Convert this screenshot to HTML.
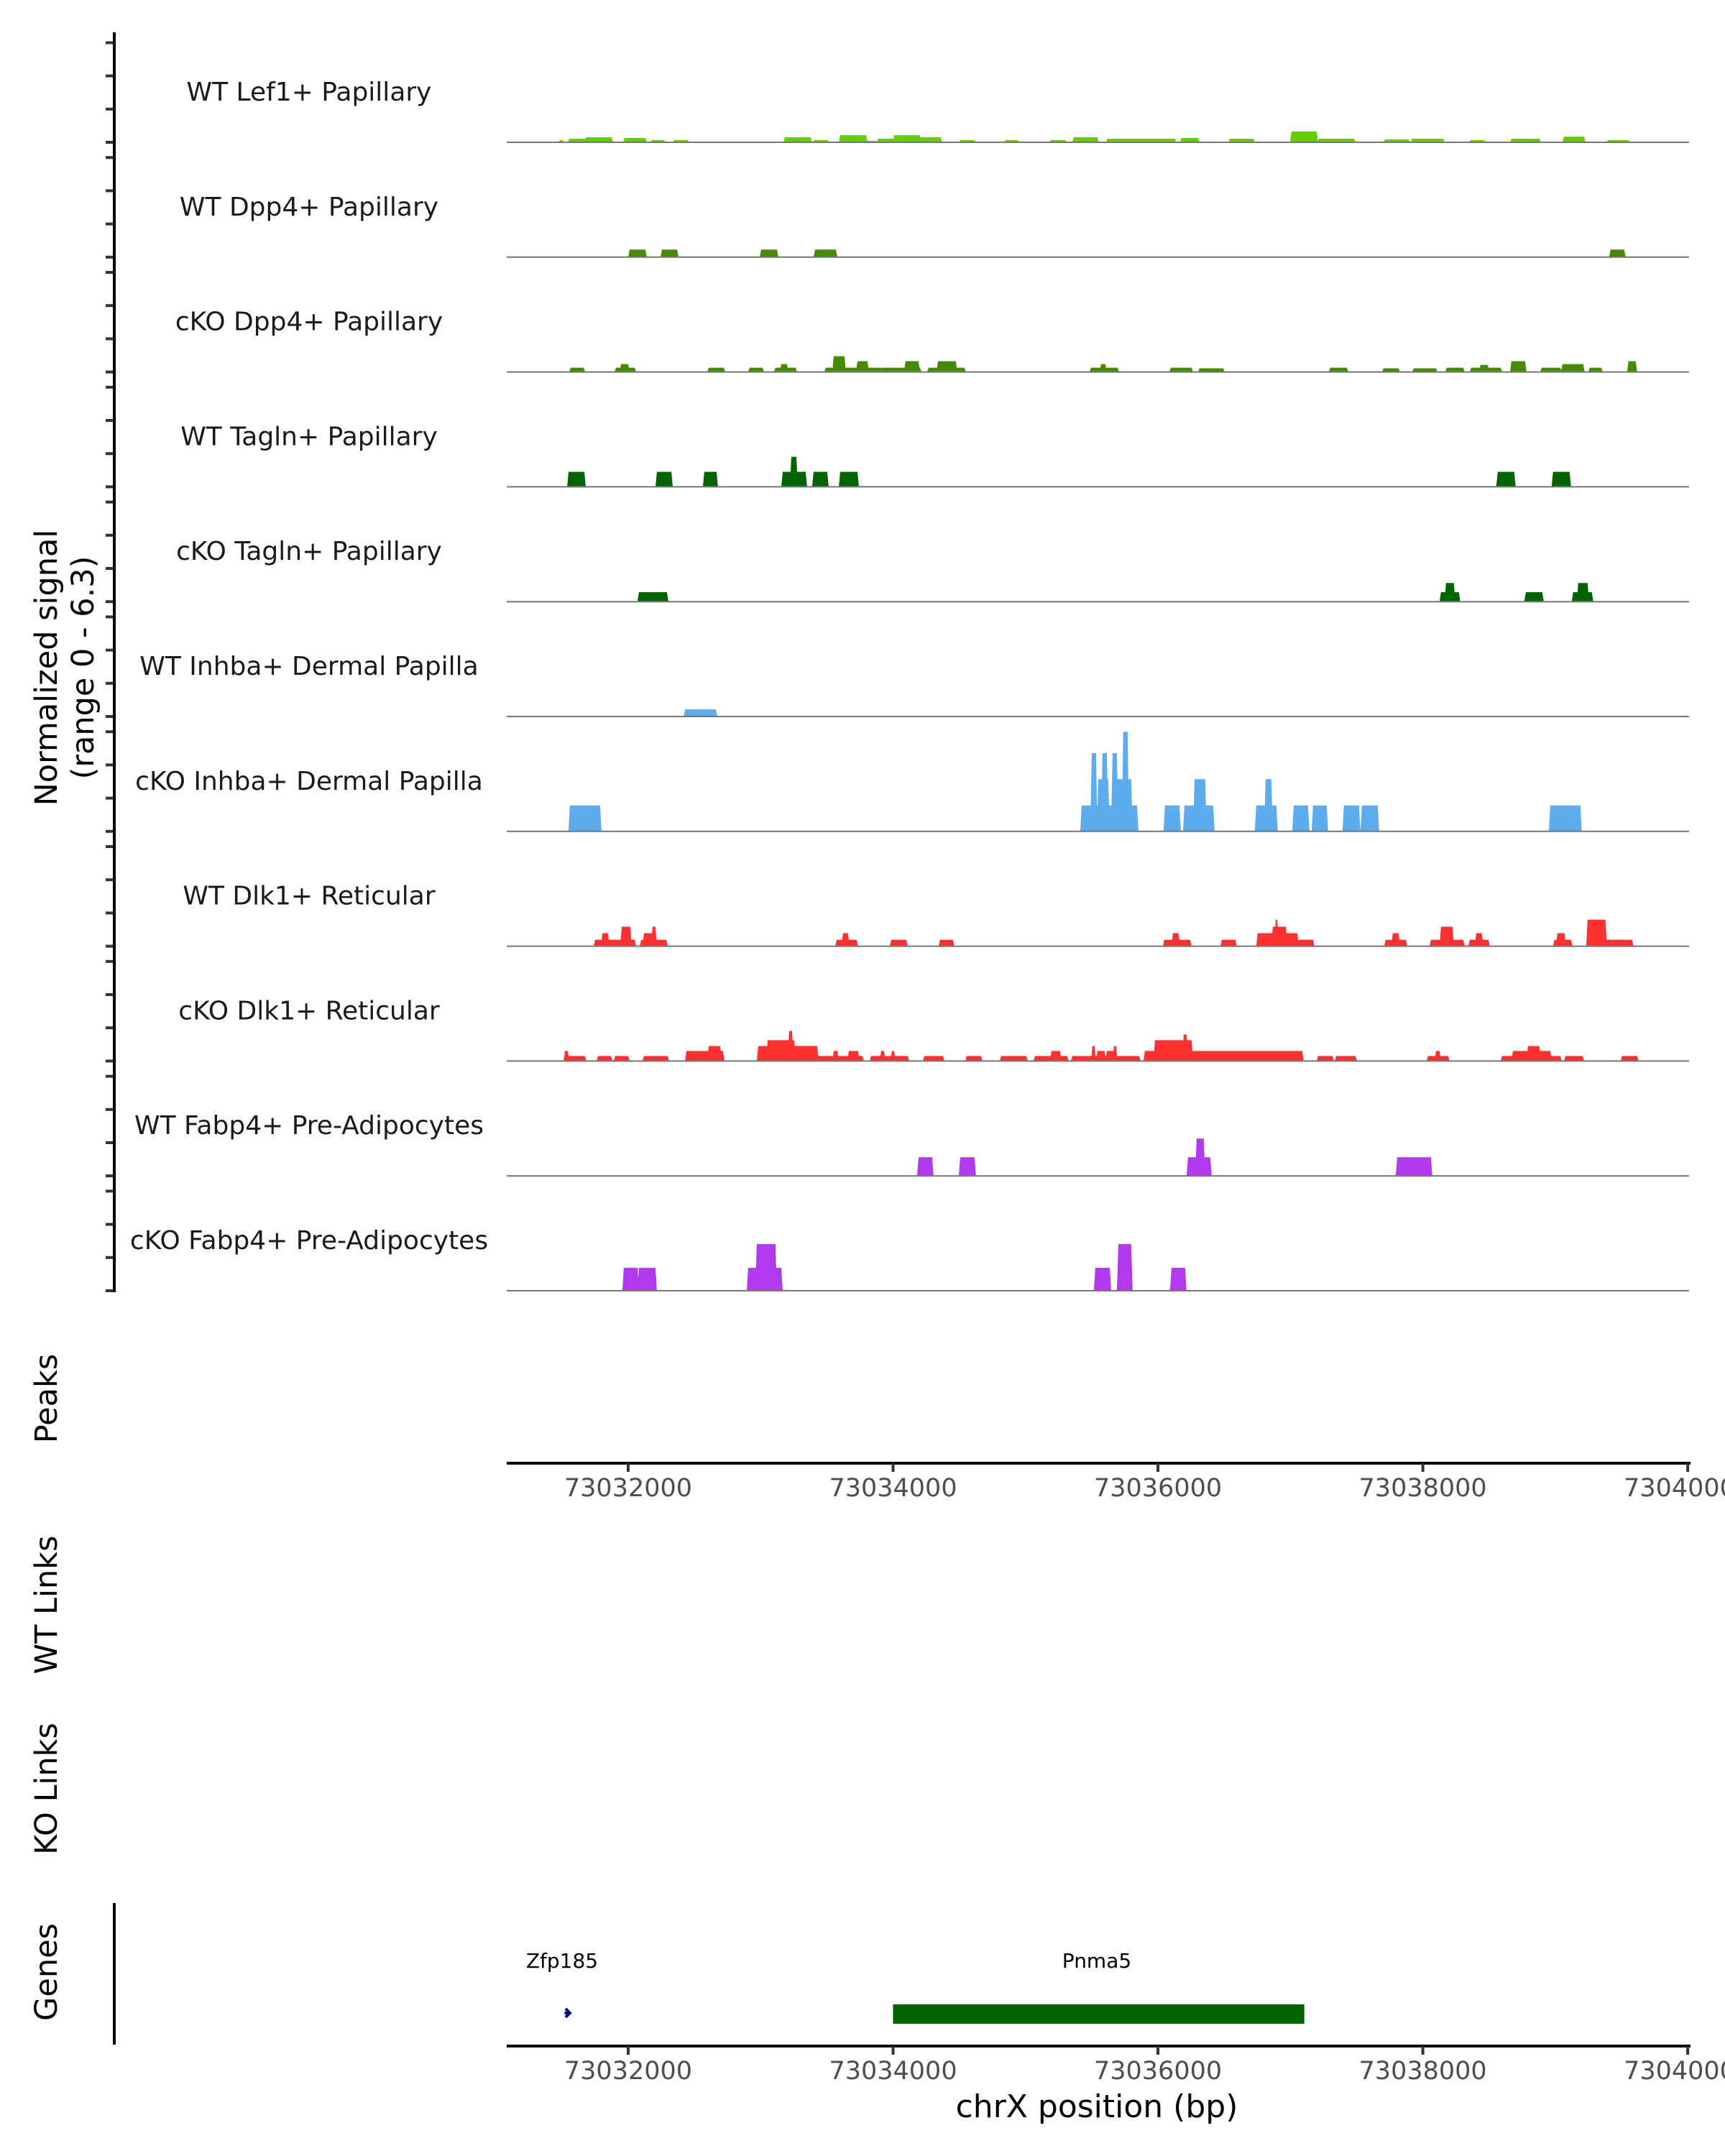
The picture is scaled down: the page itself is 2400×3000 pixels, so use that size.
<!DOCTYPE html>
<html><head><meta charset="utf-8"><style>
html,body{margin:0;padding:0;background:#fff;}
svg{display:block;font-family:"DejaVu Sans","Liberation Sans",sans-serif;}
</style></head><body>
<svg id="chart" width="2400" height="3000" viewBox="0 0 2400 3000" xmlns="http://www.w3.org/2000/svg">
<rect width="2400" height="3000" fill="#fff"/>
<g id="tracks"></g>
<g id="axes"></g>
<text transform="translate(79,929) rotate(-90)" text-anchor="middle" font-size="43" fill="#000">Normalized signal</text>
<text transform="translate(130,929) rotate(-90)" text-anchor="middle" font-size="43" fill="#000">(range 0 - 6.3)</text>
<text transform="translate(79,1946) rotate(-90)" text-anchor="middle" font-size="43" fill="#000">Peaks</text>
<text transform="translate(79,2233) rotate(-90)" text-anchor="middle" font-size="43" fill="#000">WT Links</text>
<text transform="translate(79,2489) rotate(-90)" text-anchor="middle" font-size="43" fill="#000">KO Links</text>
<text transform="translate(79,2744) rotate(-90)" text-anchor="middle" font-size="43" fill="#000">Genes</text>
<line x1="159" y1="2648" x2="159" y2="2845" stroke="#000" stroke-width="4"/>
<text x="782" y="2738" text-anchor="middle" font-size="28" fill="#000">Zfp185</text>
<text x="1526" y="2738" text-anchor="middle" font-size="28" fill="#000">Pnma5</text>
<g id="genes"></g>
<text x="1526" y="2946" text-anchor="middle" font-size="44" fill="#000">chrX position (bp)</text>
</svg>
<script>
const NS = "http://www.w3.org/2000/svg";
const REGION_START = 73031000;
const X_MIN = 73031083, X_MAX = 73040010;
const tickValues = [73032000, 73034000, 73036000, 73038000, 73040000];
const tickLabels = ["73032000", "73034000", "73036000", "73038000", "73040000"];
const yRange = [0, 6.3];
const trackNames = ["WT Lef1+ Papillary","WT Dpp4+ Papillary","cKO Dpp4+ Papillary","WT Tagln+ Papillary","cKO Tagln+ Papillary","WT Inhba+ Dermal Papilla","cKO Inhba+ Dermal Papilla","WT Dlk1+ Reticular","cKO Dlk1+ Reticular","WT Fabp4+ Pre-Adipocytes","cKO Fabp4+ Pre-Adipocytes"];
const trackColors = ["#66cd00","#458b00","#458b00","#006400","#006400","#5cacee","#5cacee","#ff3030","#ff3030","#b23aee","#b23aee"];

const lef1Start=[485,555,680,973,1179,1347,2183,2405,2601,2796,2888,3008,3203,3507,3849,4190,4364,4619,5178,5542,6008,6215,6714,6920,7359,7669,8065,8396];
const lef1End=[506,680,875,1130,1271,1450,2378,2508,2796,2888,3002,3203,3360,3615,3941,4299,4543,5129,5303,5721,6198,6480,6893,7153,7462,7880,8217,8553];
const lef1Val=[0.14,0.23,0.32,0.27,0.14,0.14,0.32,0.14,0.45,0.09,0.23,0.45,0.32,0.14,0.14,0.14,0.32,0.23,0.27,0.23,0.68,0.23,0.18,0.23,0.14,0.23,0.36,0.14];

const dpp4WtStart=[1011,1255,2004,2411,8417];
const dpp4WtEnd=[1130,1369,2123,2568,8520];
const dpp4WtVal=[0.48,0.48,0.48,0.48,0.48];

const dpp4KoStart=[566,908,946,1608,1917,2112,2156,2492,2552,2731,2905,3094,3268,3339,4494,4570,5097,5314,6301,6703,6931,7180,7365,7435,7669,7897,8054,8260,8553];
const dpp4KoEnd=[664,1049,1000,1722,2015,2264,2199,2899,2633,2807,3203,3192,3539,3474,4695,4603,5254,5493,6426,6817,7099,7305,7587,7490,7772,8038,8211,8347,8607];
const dpp4KoVal=[0.27,0.27,0.5,0.27,0.27,0.27,0.5,0.27,1.0,0.68,0.27,0.68,0.27,0.68,0.27,0.5,0.27,0.23,0.27,0.23,0.23,0.27,0.27,0.45,0.68,0.27,0.5,0.27,0.68];

const taglnWtStart=[550,1217,1575,2167,2232,2400,2601,7565,7983];
const taglnWtEnd=[669,1326,1667,2340,2270,2503,2731,7690,8108];
const taglnWtVal=[0.95,0.95,0.95,0.95,1.9,0.95,0.95,0.95,0.95];

const taglnKoStart=[1081,7137,7175,7777,8135,8173];
const taglnKoEnd=[1293,7272,7234,7902,8276,8244];
const taglnKoVal=[0.6,0.6,1.18,0.6,0.6,1.18];

const inhbaWtStart=[1429];
const inhbaWtEnd=[1662];
const inhbaWtVal=[0.45];

const inhbaKoStart=[560,4424,4500,4581,4657,4738,4549,4679,5053,5200,5276,5742,5813,6025,6171,6404,6540,7962];
const inhbaKoEnd=[788,4842,4532,4614,4690,4771,4625,4798,5162,5417,5357,5894,5856,6133,6274,6518,6659,8189];
const inhbaKoVal=[1.64,1.64,4.95,4.95,4.95,6.3,3.3,3.3,1.64,1.64,3.3,1.64,3.3,1.64,1.64,1.64,1.64,1.64];

const dlk1WtStart=[750,805,951,1098,1119,1184,2574,2622,2986,3355,5048,5113,5482,5753,5867,5889,6052,6719,6773,7061,7137,7354,7403,7994,8016,8244,8379];
const dlk1WtEnd=[1049,848,1016,1288,1206,1206,2725,2660,3100,3452,5243,5156,5585,6052,5965,5900,6171,6871,6817,7305,7224,7495,7446,8119,8070,8379,8580];
const dlk1WtVal=[0.41,0.82,1.23,0.41,0.82,1.23,0.41,0.82,0.41,0.41,0.41,0.82,0.41,0.82,1.23,1.68,0.41,0.41,0.82,0.41,1.23,0.41,0.82,0.41,0.82,1.68,0.41];

const dlk1KoStart=[523,523,772,902,1119,1440,1608,1982,2053,2215,2427,2552,2666,2834,2910,2991,3236,3556,3816,4071,4196,4353,4505,4543,4614,4668,4901,4977,5194,6209,6345,7039,7099,7598,7680,7793,8076,8504];
const dlk1KoEnd=[674,544,870,1000,1298,1716,1695,2427,2253,2237,2769,2579,2736,3111,2932,3008,3377,3664,4006,4315,4261,4858,4521,4597,4684,4684,6089,5254,5216,6318,6491,7191,7126,8038,7962,7880,8206,8618];
const dlk1KoVal=[0.32,0.64,0.32,0.32,0.32,0.64,0.95,0.95,1.32,1.9,0.32,0.64,0.64,0.32,0.64,0.64,0.32,0.32,0.32,0.32,0.64,0.32,0.95,0.64,0.64,0.95,0.64,1.32,1.68,0.32,0.32,0.32,0.64,0.32,0.64,0.95,0.32,0.32];

const fabp4WtStart=[3192,3507,5227,5292,6806];
const fabp4WtEnd=[3295,3615,5395,5346,7061];
const fabp4WtVal=[1.18,1.18,1.18,2.36,1.18];

const fabp4KoStart=[967,1081,1906,1971,4527,4701,5102];
const fabp4KoEnd=[1071,1206,2156,2112,4636,4798,5205];
const fabp4KoVal=[1.45,1.45,1.45,2.95,1.45,2.95,1.45];

const geneNames=["Zfp185","Pnma5"];
const geneStart=[73031520,73034000];
const geneEnd=[73031560,73037105];

const trackStarts=[lef1Start,dpp4WtStart,dpp4KoStart,taglnWtStart,taglnKoStart,inhbaWtStart,inhbaKoStart,dlk1WtStart,dlk1KoStart,fabp4WtStart,fabp4KoStart];
const trackEnds=[lef1End,dpp4WtEnd,dpp4KoEnd,taglnWtEnd,taglnKoEnd,inhbaWtEnd,inhbaKoEnd,dlk1WtEnd,dlk1KoEnd,fabp4WtEnd,fabp4KoEnd];
const trackVals=[lef1Val,dpp4WtVal,dpp4KoVal,taglnWtVal,taglnKoVal,inhbaWtVal,inhbaKoVal,dlk1WtVal,dlk1KoVal,fabp4WtVal,fabp4KoVal];

const PX_L=705, PX_R=2350;
function xScale(bp){ return PX_L + (bp - X_MIN) / (X_MAX - X_MIN) * (PX_R - PX_L); }
const TRACK_H = 138.6;
function yScale(v, base){ return base - (v - yRange[0]) / (yRange[1] - yRange[0]) * TRACK_H; }
function baseY(i){ return 198 + i * 159.8; }
function mk(tag, attrs, parent){ const e=document.createElementNS(NS,tag); for(const k in attrs) e.setAttribute(k,attrs[k]); parent.appendChild(e); return e; }

const tracks=document.getElementById('tracks');
const axes=document.getElementById('axes');
for(let i=0;i<trackNames.length;i++){
  const b=baseY(i);
  const g=mk('g',{},tracks);
  
  
  const lbl=mk('text',{x:430,y:b-58,'text-anchor':'middle','font-size':36,fill:'#1a1a1a'},g);
  lbl.textContent=trackNames[i];
  
  
  const st=trackStarts[i], en=trackEnds[i], vs=trackVals[i];
  for(let j=0;j<st.length;j++){
    const x0=xScale(REGION_START+st[j]), x1=xScale(REGION_START+en[j]);
    const y=yScale(vs[j],b);
    const p=mk('polygon',{points:`${x0-2},${b} ${x0},${y} ${x1},${y} ${x1+2},${b}`,fill:trackColors[i]},g);
    
    
  }
  const bl=mk('line',{x1:PX_L,y1:b,x2:PX_R,y2:b,stroke:'#777','stroke-width':2},g);
  
  
  for(let k=0;k<4;k++){
    const ty=yScale(k*2.1,b);
    const t=mk('line',{x1:147,y1:ty,x2:159,y2:ty,stroke:'#333','stroke-width':4},axes);
    
    
  }
}
const yl=mk('line',{x1:159,y1:45,x2:159,y2:1798,stroke:'#000','stroke-width':4},axes);



function xAxis(y, labelY, name){
  const g=mk('g',{},axes);
  
  
  mk('line',{x1:PX_L,y1:y,x2:PX_R+2,y2:y,stroke:'#000','stroke-width':4},g);
  for(let k=0;k<tickValues.length;k++){
    const x=xScale(tickValues[k]);
    mk('line',{x1:x,y1:y,x2:x,y2:y+12,stroke:'#333','stroke-width':4},g);
    const t=mk('text',{x:x,y:labelY,'text-anchor':'middle','font-size':35,fill:'#4d4d4d'},g);
    t.textContent=tickLabels[k];
    
    
  }
}
xAxis(2036,2082,'peaks-x-axis');
xAxis(2847,2893,'genes-x-axis');

const genes=document.getElementById('genes');
{
  const xa=xScale(geneStart[0]), xb=xScale(geneEnd[0]);
  const a=mk('path',{d:`M${xa} 2801 L${xb} 2801 M${xb-6} 2795 L${xb} 2801 L${xb-6} 2807`,stroke:'#00008b','stroke-width':4,fill:'none'},genes);
  
  
  const x0=xScale(geneStart[1]), x1=xScale(geneEnd[1]);
  const r=mk('rect',{x:x0,y:2789,width:x1-x0,height:27,fill:'#006400'},genes);
  
  
}
</script>
</body></html>
